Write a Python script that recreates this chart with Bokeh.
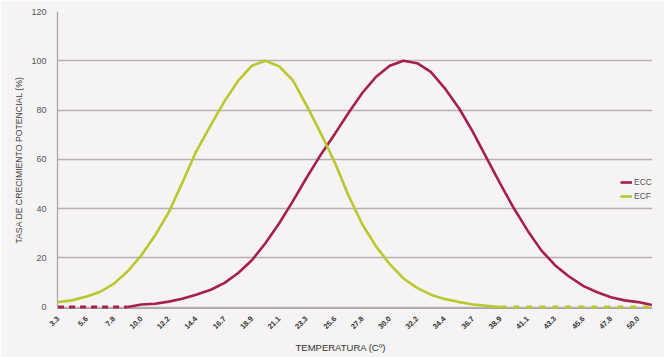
import math
from bokeh.plotting import figure
from bokeh.models import (FixedTicker, NumeralTickFormatter, Legend, LegendItem,
                          Range1d, Title)
from bokeh.embed import file_html
from bokeh.resources import INLINE

# Temperature categories (ºC)
temps = [3.3, 4.4, 5.6, 6.7, 7.8, 8.9, 10.0, 11.1, 12.2, 13.3, 14.4, 15.6, 16.7,
         17.8, 18.9, 20.0, 21.1, 22.2, 23.3, 24.4, 25.6, 26.7, 27.8, 28.9, 30.0,
         31.1, 32.2, 33.3, 34.4, 35.6, 36.7, 37.8, 38.9, 40.0, 41.1, 42.2, 43.3,
         44.4, 45.6, 46.7, 47.8, 48.9, 50.0, 51.1]

# ECC series (%)
ecc = [0, 0, 0, 0, 0, 0, 1.0, 1.3, 2.2, 3.4, 5.0, 7.0, 9.8, 13.8, 19.0, 26.0,
       34.0, 43.0, 52.5, 61.5, 70.5, 79.0, 87.0, 93.5, 98.0, 100.0, 99.0, 95.5,
       89.0, 80.5, 71.0, 60.5, 50.0, 40.0, 31.0, 23.0, 17.0, 12.5, 8.5, 6.0,
       4.0, 2.7, 2.0, 0.8]

# ECF series (%)
ecf = [2.0, 2.7, 4.3, 6.2, 9.5, 14.5, 21.0, 29.0, 38.4, 50.5, 63.0, 74.0, 83.6,
       91.9, 98.0, 100.0, 97.7, 92.0, 81.9, 71.0, 58.4, 45.0, 33.5, 24.6, 17.4,
       11.6, 7.8, 5.0, 3.3, 2.0, 1.0, 0.5, 0, 0, 0, 0, 0, 0, 0, 0, 0, 0, 0, 0]

tick_values = temps[::2]
y_ticks = [0, 20, 40, 60, 80, 100, 120]
x_title = "TEMPERATURA (Cº)"
y_title = "TASA DE CRECIMIENTO POTENCIAL (%)"

ECC_COLOR = "#a51f4f"
ECF_COLOR = "#b6c92e"
BG = "#f5f3f3"
FONT = "Liberation Sans"

p = figure(width=664, height=357, output_backend="svg", toolbar_location=None,
           x_range=Range1d(3.25, 51.15), y_range=Range1d(-0.6, 120),
           background_fill_color=BG, border_fill_color=BG,
           min_border_left=57, min_border_right=12, min_border_top=11,
           min_border_bottom=48)
p.outline_line_color = None


def split(vals):
    first = next(i for i, v in enumerate(vals) if v > 0)
    last = max(i for i, v in enumerate(vals) if v > 0)
    return max(first - 1, 0), min(last + 1, len(vals) - 1)


e0, e1 = split(ecc)
f0, f1 = split(ecf)

# ECC
r_ecc = p.line(temps[e0:e1 + 1], ecc[e0:e1 + 1], line_color=ECC_COLOR, line_width=2.6)
if e0 > 0:
    p.line(temps[:e0 + 1], ecc[:e0 + 1], line_color=ECC_COLOR, line_width=3,
           line_dash="6 5", level="overlay")
# ECF
r_ecf = p.line(temps[f0:f1 + 1], ecf[f0:f1 + 1], line_color=ECF_COLOR, line_width=2.6)
if f1 < len(ecf) - 1:
    p.line(temps[f1:], ecf[f1:], line_color=ECF_COLOR, line_width=3,
           line_dash="6 7", level="overlay")

# axes
p.xaxis.ticker = FixedTicker(ticks=tick_values)
p.xaxis.formatter = NumeralTickFormatter(format="0.0")
p.xaxis.major_label_orientation = math.pi / 4
p.xaxis.major_label_text_font = FONT
p.xaxis.major_label_text_font_size = "7.5px"
p.xaxis.major_label_text_font_style = "bold"
p.xaxis.major_label_text_color = "#333333"
p.xaxis.major_label_standoff = 3

p.yaxis.ticker = FixedTicker(ticks=y_ticks)
p.yaxis.major_label_text_font = FONT
p.yaxis.major_label_text_font_size = "9px"
p.yaxis.major_label_text_color = "#555555"
p.yaxis.major_label_standoff = 5

for ax in (p.xaxis, p.yaxis):
    ax.major_tick_line_color = None
    ax.minor_tick_line_color = None
    ax.axis_line_color = "#a9a2a6"
    ax.axis_line_width = 1.2

# axis titles as side titles
p.add_layout(Title(text=x_title, align="left", offset=238,
                   text_font=FONT, text_font_size="9.5px",
                   text_font_style="normal", text_color="#333333"), "below")
p.add_layout(Title(text=y_title, align="center",
                   text_font=FONT, text_font_size="8.7px",
                   text_font_style="normal", text_color="#444444"), "left")

p.xgrid.grid_line_color = None
p.ygrid.grid_line_color = "#b9afb4"
p.ygrid.grid_line_width = 1.4

legend = Legend(items=[LegendItem(label="ECC", renderers=[r_ecc]),
                       LegendItem(label="ECF", renderers=[r_ecf])],
                location=(563, 106), background_fill_alpha=0,
                border_line_color=None, padding=0, spacing=2, margin=0,
                glyph_width=12, glyph_height=12, label_standoff=2,
                label_text_font=FONT, label_text_font_size="8.5px",
                label_text_color="#555555", label_height=12)
p.add_layout(legend)

open("out.html", "w").write(file_html(p, INLINE))
